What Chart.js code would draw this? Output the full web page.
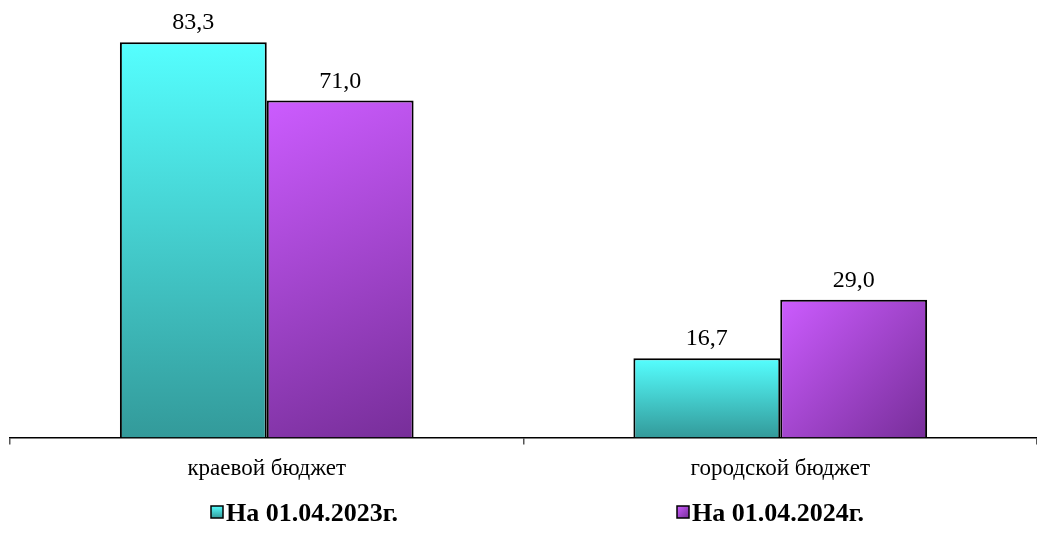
<!DOCTYPE html>
<html>
<head>
<meta charset="utf-8">
<script src="https://cdn.jsdelivr.net/npm/chart.js@4.4.1/dist/chart.umd.min.js"></script>
<style>
  html, body { margin: 0; padding: 0; background: #fff; }
  #wrap { width: 1037px; height: 545px; }
</style>
</head>
<body>
<div id="wrap"><canvas id="myChart" width="1037" height="545"></canvas></div>
<script>
// Data
const categories = ["краевой бюджет", "городской бюджет"];
const seriesNames = ["На 01.04.2023г.", "На 01.04.2024г."];
const values2023 = [83.3, 16.7];
const values2024 = [71.0, 29.0];

const SERIF = "'Liberation Serif', 'Times New Roman', serif";
const CAT_PCT = 0.572;

// gradient between two corners
function makeGradient(ctx, dsIndex, x0, y0, x1, y1) {
  let g;
  if (dsIndex === 0) {
    g = ctx.createLinearGradient(0, y0, 0, y1);
    g.addColorStop(0, "#55FFFF");
    g.addColorStop(1, "#339A9A");
  } else {
    g = ctx.createLinearGradient(x0, y0, x1, y1);
    g.addColorStop(0, "#CC5CFF");
    g.addColorStop(1, "#772E99");
  }
  return g;
}

// scriptable fill, bar box worked out from the scales
function barFill(context) {
  const chart = context.chart;
  const fallback = context.datasetIndex === 0 ? "#4FE0E0" : "#A844D8";
  if (!chart.chartArea || context.type !== "data") return fallback;
  const xs = chart.scales.x, ys = chart.scales.y;
  const catW = xs.width / chart.data.labels.length;
  const barW = catW * CAT_PCT / 2;
  const cx = xs.getPixelForValue(context.dataIndex);
  const x0 = cx - barW + context.datasetIndex * barW;
  const y0 = ys.getPixelForValue(context.raw);
  const y1 = ys.getPixelForValue(0);
  return makeGradient(chart.ctx, context.datasetIndex, x0, y0, x0 + barW, y1);
}

const valueLabels = {
  id: "valueLabels",
  afterDatasetsDraw(chart) {
    const ctx = chart.ctx;
    ctx.save();
    ctx.font = "24px " + SERIF;
    ctx.fillStyle = "#000";
    ctx.textAlign = "center";
    ctx.textBaseline = "alphabetic";
    chart.data.datasets.forEach((ds, i) => {
      chart.getDatasetMeta(i).data.forEach((bar, j) => {
        const txt = ds.data[j].toFixed(1).replace(".", ",");
        ctx.fillText(txt, bar.x, bar.y - 13);
      });
    });
    ctx.restore();
  }
};

// legend drawn at fixed spacing like the original
const bottomLegend = {
  id: "bottomLegend",
  afterDraw(chart) {
    const ctx = chart.ctx;
    const xs = [211, 677];
    const y = 513;
    ctx.save();
    ctx.font = "bold 26px " + SERIF;
    ctx.textBaseline = "middle";
    ctx.textAlign = "left";
    chart.data.datasets.forEach((ds, i) => {
      const bx = xs[i], by = y - 7;
      ctx.fillStyle = makeGradient(ctx, i, bx, by, bx + 12, by + 12);
      ctx.fillRect(bx, by, 12, 12);
      ctx.strokeStyle = "#000";
      ctx.lineWidth = 1.5;
      ctx.strokeRect(bx, by, 12, 12);
      ctx.fillStyle = "#000";
      ctx.fillText(ds.label, bx + 15, y + 1);
    });
    ctx.restore();
  }
};

const data = {
  labels: categories,
  datasets: [
    {
      label: seriesNames[0],
      data: values2023,
      backgroundColor: barFill,
      borderColor: "#000",
      borderWidth: 2,
      categoryPercentage: CAT_PCT,
      barPercentage: 1.0
    },
    {
      label: seriesNames[1],
      data: values2024,
      backgroundColor: barFill,
      borderColor: "#000",
      borderWidth: 2,
      categoryPercentage: CAT_PCT,
      barPercentage: 1.0
    }
  ]
};

const config = {
  type: "bar",
  data: data,
  options: {
    responsive: false,
    animation: false,
    layout: { padding: { left: 10, right: 0, top: 1, bottom: 51 } },
    plugins: {
      legend: { display: false },
      tooltip: { enabled: false }
    },
    scales: {
      y: {
        display: false,
        min: 0,
        max: 92
      },
      x: {
        grid: {
          offset: true,
          drawOnChartArea: false,
          drawTicks: true,
          tickLength: 7,
          lineWidth: 1.5,
          color: "#555"
        },
        border: { display: true, color: "#000", width: 1.5 },
        ticks: {
          color: "#000",
          padding: 11,
          font: { family: SERIF, size: 23 }
        }
      }
    }
  },
  plugins: [valueLabels, bottomLegend]
};

// Create chart
const ctx = document.getElementById("myChart").getContext("2d");
const myChart = new Chart(ctx, config);
</script>
</body>
</html>
